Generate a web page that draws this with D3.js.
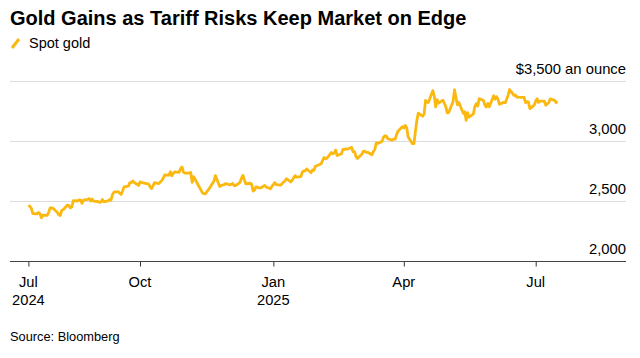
<!DOCTYPE html>
<html>
<head>
<meta charset="utf-8">
<script src="https://cdn.jsdelivr.net/npm/d3@7"></script>
<style>
  html, body { margin: 0; padding: 0; background: #fff; }
  svg { display: block; font-family: "Liberation Sans", Arial, Helvetica, sans-serif; }
</style>
</head>
<body>
<svg id="chart" width="640" height="358"></svg>
<script>
const title = "Gold Gains as Tariff Risks Keep Market on Edge";
const seriesName = "Spot gold";
const source = "Source: Bloomberg";
const unitLabel = "$3,500 an ounce";

const dates = [
"2024-07-16","2024-07-17","2024-07-18","2024-07-19","2024-07-22","2024-07-23","2024-07-24","2024-07-25","2024-07-26",
"2024-07-29","2024-07-30","2024-07-31","2024-08-01","2024-08-02","2024-08-05","2024-08-06","2024-08-07","2024-08-08","2024-08-09",
"2024-08-12","2024-08-13","2024-08-14","2024-08-15","2024-08-16","2024-08-19","2024-08-20","2024-08-21","2024-08-22","2024-08-23",
"2024-08-26","2024-08-27","2024-08-28","2024-08-29","2024-08-30","2024-09-02","2024-09-03","2024-09-04","2024-09-05","2024-09-06",
"2024-09-09","2024-09-10","2024-09-11","2024-09-12","2024-09-13","2024-09-16","2024-09-17","2024-09-18","2024-09-19","2024-09-20",
"2024-09-23","2024-09-24","2024-09-25","2024-09-26","2024-09-27","2024-09-30","2024-10-01","2024-10-02","2024-10-03","2024-10-04",
"2024-10-07","2024-10-08","2024-10-09","2024-10-10","2024-10-11","2024-10-14","2024-10-15","2024-10-16","2024-10-17","2024-10-18",
"2024-10-21","2024-10-22","2024-10-23","2024-10-24","2024-10-25","2024-10-28","2024-10-29","2024-10-30","2024-10-31","2024-11-01",
"2024-11-04","2024-11-05","2024-11-06","2024-11-07","2024-11-08","2024-11-11","2024-11-12","2024-11-13","2024-11-14","2024-11-15",
"2024-11-18","2024-11-19","2024-11-20","2024-11-21","2024-11-22","2024-11-25","2024-11-26","2024-11-27","2024-11-28","2024-11-29",
"2024-12-02","2024-12-03","2024-12-04","2024-12-05","2024-12-06","2024-12-09","2024-12-10","2024-12-11","2024-12-12","2024-12-13",
"2024-12-16","2024-12-17","2024-12-18","2024-12-19","2024-12-20","2024-12-23","2024-12-24","2024-12-26","2024-12-27","2024-12-30",
"2024-12-31","2025-01-02","2025-01-03","2025-01-06","2025-01-07","2025-01-08","2025-01-09","2025-01-10","2025-01-13","2025-01-14",
"2025-01-15","2025-01-16","2025-01-17","2025-01-20","2025-01-21","2025-01-22","2025-01-23","2025-01-24","2025-01-27","2025-01-28",
"2025-01-29","2025-01-30","2025-01-31","2025-02-03","2025-02-04","2025-02-05","2025-02-06","2025-02-07","2025-02-10","2025-02-11",
"2025-02-12","2025-02-13","2025-02-14","2025-02-17","2025-02-18","2025-02-19","2025-02-20","2025-02-21","2025-02-24","2025-02-25",
"2025-02-26","2025-02-27","2025-02-28","2025-03-03","2025-03-04","2025-03-05","2025-03-06","2025-03-07","2025-03-10","2025-03-11",
"2025-03-12","2025-03-13","2025-03-14","2025-03-17","2025-03-18","2025-03-19","2025-03-20","2025-03-21","2025-03-24","2025-03-25",
"2025-03-26","2025-03-27","2025-03-28","2025-03-31","2025-04-01","2025-04-02","2025-04-03","2025-04-04","2025-04-07","2025-04-08",
"2025-04-09","2025-04-10","2025-04-11","2025-04-14","2025-04-15","2025-04-16","2025-04-17","2025-04-18","2025-04-21","2025-04-22",
"2025-04-23","2025-04-24","2025-04-25","2025-04-28","2025-04-29","2025-04-30","2025-05-01","2025-05-02","2025-05-05","2025-05-06",
"2025-05-07","2025-05-08","2025-05-09","2025-05-12","2025-05-13","2025-05-14","2025-05-15","2025-05-16","2025-05-19","2025-05-20",
"2025-05-21","2025-05-22","2025-05-23","2025-05-26","2025-05-27","2025-05-28","2025-05-29","2025-05-30","2025-06-02","2025-06-03",
"2025-06-04","2025-06-05","2025-06-06","2025-06-09","2025-06-10","2025-06-11","2025-06-12","2025-06-13","2025-06-16","2025-06-17",
"2025-06-18","2025-06-19","2025-06-20","2025-06-23","2025-06-24","2025-06-25","2025-06-26","2025-06-27","2025-06-30","2025-07-01",
"2025-07-02","2025-07-03","2025-07-04","2025-07-07","2025-07-08","2025-07-09","2025-07-10","2025-07-11","2025-07-14","2025-07-15",
"2025-07-16"
];

const prices = [
2469,2459,2445,2400,2396,2409,2398,2364,2387,
2384,2410,2447,2446,2443,2409,2390,2383,2427,2431,
2472,2465,2447,2456,2507,2504,2514,2512,2484,2512,
2518,2524,2504,2520,2503,2500,2493,2495,2516,2497,
2506,2516,2512,2558,2578,2582,2569,2559,2587,2622,
2628,2657,2657,2672,2658,2634,2663,2659,2656,2653,
2644,2622,2608,2630,2657,2649,2662,2674,2693,2721,
2720,2748,2715,2736,2747,2743,2774,2788,2744,2736,
2736,2742,2659,2706,2685,2619,2598,2573,2565,2563,
2612,2631,2651,2670,2716,2625,2633,2638,2639,2650,
2639,2643,2650,2632,2633,2660,2694,2718,2681,2648,
2652,2646,2587,2595,2622,2612,2617,2634,2621,2606,
2625,2658,2640,2636,2649,2662,2670,2690,2663,2677,
2697,2715,2703,2708,2745,2755,2755,2771,2740,2763,
2760,2794,2798,2815,2843,2866,2856,2861,2908,2898,
2904,2929,2883,2898,2935,2933,2939,2936,2951,2915,
2916,2876,2858,2893,2918,2920,2910,2910,2889,2916,
2934,2988,2984,3001,3035,3048,3044,3023,3011,3020,
3019,3057,3085,3124,3113,3134,3114,3037,2982,2982,
3083,3175,3237,3211,3230,3343,3327,3327,3424,3381,
3288,3349,3319,3344,3317,3289,3239,3241,3334,3431,
3365,3306,3325,3236,3249,3177,3240,3202,3230,3290,
3315,3295,3357,3342,3301,3288,3318,3289,3381,3353,
3373,3352,3310,3326,3323,3355,3386,3433,3385,3388,
3370,3370,3368,3368,3323,3333,3328,3274,3303,3338,
3357,3326,3337,3336,3302,3313,3325,3355,3343,3324,
3335
];

const yTicks = [2000, 2500, 3000, 3500];
const xTickDates = ["2024-07-16", "2024-10-01", "2025-01-01", "2025-04-01", "2025-07-01"];
const xTickLabels = [["Jul", "2024"], ["Oct"], ["Jan", "2025"], ["Apr"], ["Jul"]];

const parse = d3.timeParse("%Y-%m-%d");
const data = dates.map((d, i) => ({ date: parse(d), value: prices[i] }))
  .filter(d => d.value != null);

const svg = d3.select("#chart");
const plotLeft = 10, plotRight = 626;
const plotTop = 81.5, plotBottom = 261.5;
const lineColor = "#FBB80F";

const x = d3.scaleTime()
  .domain([parse("2024-10-01"), parse("2025-07-01")])
  .range([140, 535.7]);
const y = d3.scaleLinear()
  .domain([2000, 3500])
  .range([plotBottom, plotTop]);

// Title
svg.append("text")
  .attr("x", 10).attr("y", 25)
  .attr("font-size", 20).attr("font-weight", "bold")
  .attr("fill", "#000")
  .text(title);

// Legend
svg.append("line")
  .attr("x1", 12).attr("y1", 48).attr("x2", 19).attr("y2", 39)
  .attr("stroke", lineColor).attr("stroke-width", 3);
svg.append("text")
  .attr("x", 29).attr("y", 48)
  .attr("font-size", 14.5).attr("fill", "#000")
  .text(seriesName);

// Gridlines
svg.append("g").selectAll("line")
  .data(yTicks.filter(t => t !== 2000))
  .join("line")
  .attr("x1", plotLeft).attr("x2", plotRight)
  .attr("y1", d => y(d)).attr("y2", d => y(d))
  .attr("stroke", "#dcdcdc").attr("stroke-width", 1);

// Y labels
svg.append("g").selectAll("text")
  .data(yTicks)
  .join("text")
  .attr("x", plotRight).attr("y", d => y(d) - 8)
  .attr("text-anchor", "end")
  .attr("font-size", 14.8).attr("fill", "#000")
  .text(d => d === 3500 ? unitLabel : d3.format(",")(d));

// X axis
const xAxis = d3.axisBottom(x)
  .tickValues(xTickDates.map(parse))
  .tickSize(5)
  .tickFormat("");
const gx = svg.append("g").attr("transform", `translate(0,${plotBottom})`).call(xAxis);
gx.select(".domain").remove();
gx.selectAll(".tick line").attr("stroke", "#333");
gx.append("line").attr("x1", plotLeft).attr("x2", plotRight).attr("y1", 0).attr("y2", 0)
  .attr("stroke", "#444").attr("stroke-width", 1);

const xl = svg.append("g").selectAll("text")
  .data(xTickDates.map((d, i) => ({ date: parse(d), lines: xTickLabels[i] })))
  .join("text")
  .attr("text-anchor", "middle")
  .attr("font-size", 14.7).attr("fill", "#000");
xl.each(function(d) {
  const t = d3.select(this);
  d.lines.forEach((ln, j) => {
    t.append("tspan").attr("x", x(d.date)).attr("y", 286.5 + j * 18).text(ln);
  });
});

// Line
const line = d3.line().x(d => x(d.date)).y(d => y(d.value));
svg.append("path")
  .datum(data)
  .attr("d", line)
  .attr("fill", "none")
  .attr("stroke", lineColor)
  .attr("stroke-width", 2.8)
  .attr("stroke-linejoin", "round");

// Source
svg.append("text")
  .attr("x", 10).attr("y", 341)
  .attr("font-size", 12.8).attr("fill", "#000")
  .text(source);
</script>
</body>
</html>
